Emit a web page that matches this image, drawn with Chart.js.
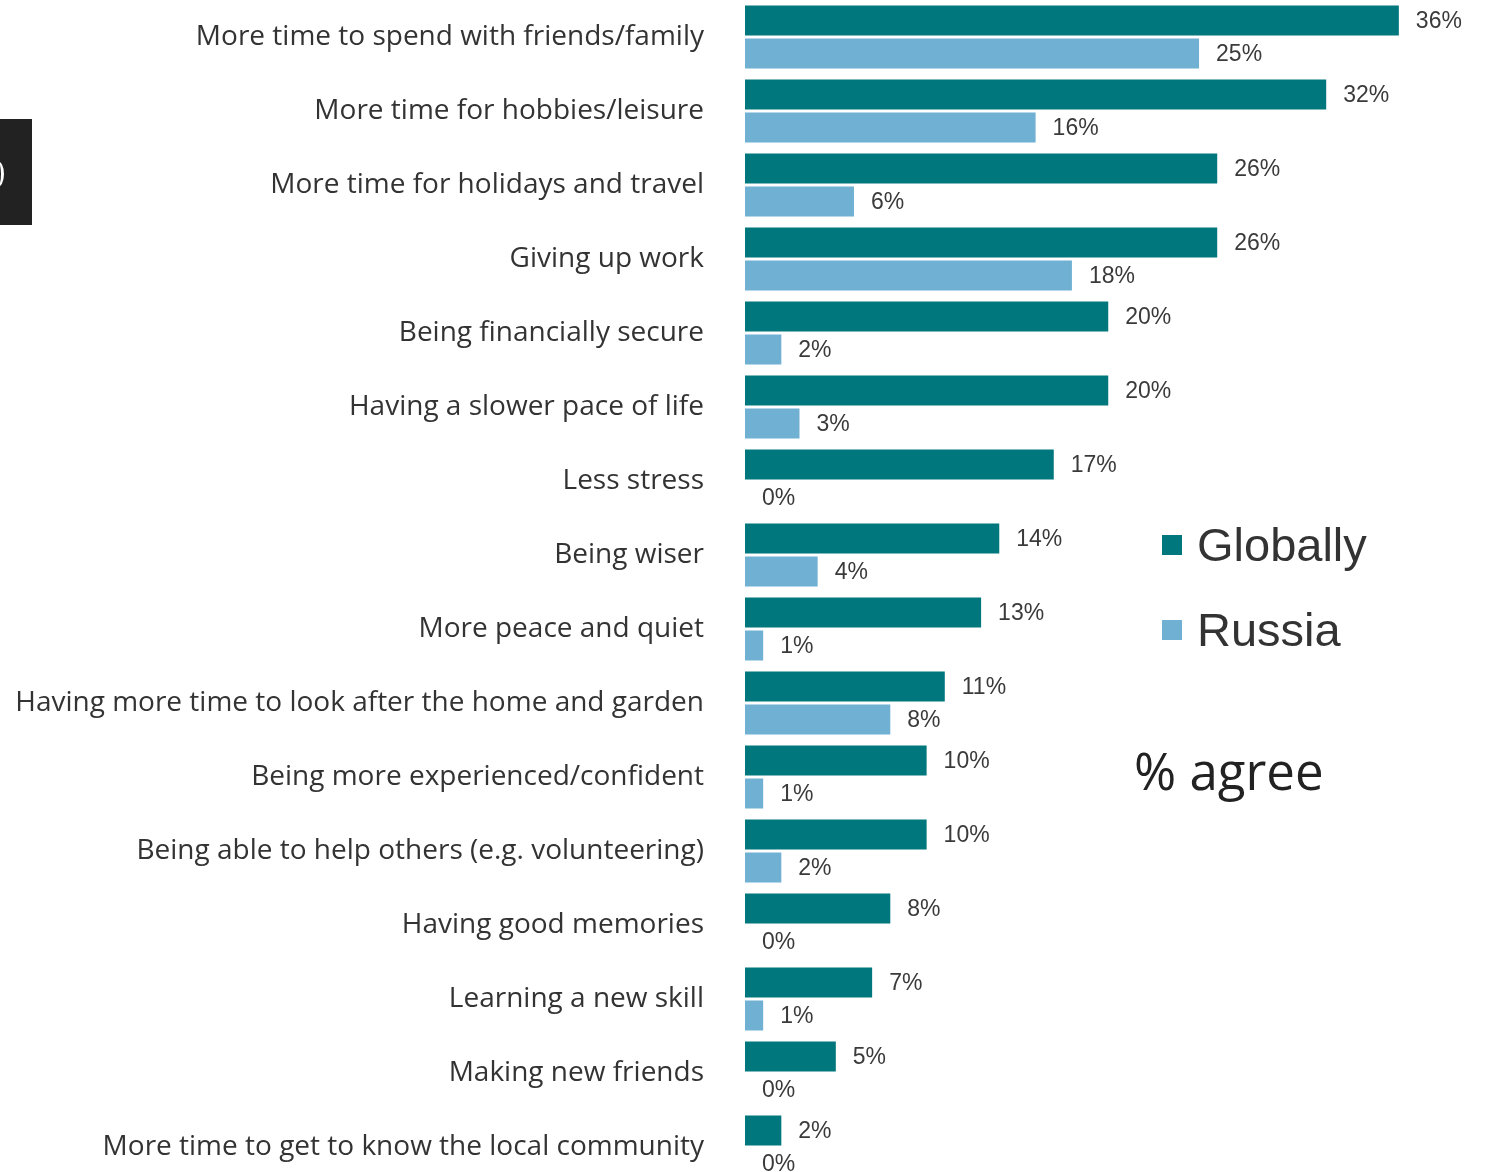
<!DOCTYPE html>
<html>
<head>
<meta charset="utf-8">
<script src="https://cdn.jsdelivr.net/npm/chart.js@4"></script>
<style>
  html, body { margin: 0; padding: 0; background: #fff; overflow: hidden; }
  #wrap { position: relative; width: 1506px; height: 1172px; overflow: hidden; }
  #chart { position: absolute; left: 0; top: 0; }
  .tab { position: absolute; left: 0; top: 119px; width: 32px; height: 106px; background: #222; overflow: hidden; }
  .tab span { position: absolute; left: -9px; top: 42px; width: 10px; height: 26px; border-right: 3px solid #fff; border-radius: 0 50% 50% 0; }
  .legend-item { position: absolute; left: 1162px; font-family: "Liberation Sans", Arial, sans-serif; font-size: 47px; color: #333; line-height: 1; }
  .legend-item i { position: absolute; left: 0; width: 20px; height: 20px; }
  .legend-item b { position: absolute; left: 35px; font-weight: normal; white-space: nowrap; }
  #note { position: absolute; left: 1134px; top: 745px; font-family: "Open Sans", sans-serif; font-size: 51px; color: #222; line-height: 1; white-space: nowrap; }
</style>
</head>
<body>
<div id="wrap">
  <canvas id="chart" width="1506" height="1184"></canvas>
  <div class="tab"><span></span></div>
  <div id="legend"></div>
  <div id="note">% agree</div>
</div>
<script>
const categories = [
  'More time to spend with friends/family',
  'More time for hobbies/leisure',
  'More time for holidays and travel',
  'Giving up work',
  'Being financially secure',
  'Having a slower pace of life',
  'Less stress',
  'Being wiser',
  'More peace and quiet',
  'Having more time to look after the home and garden',
  'Being more experienced/confident',
  'Being able to help others (e.g. volunteering)',
  'Having good memories',
  'Learning a new skill',
  'Making new friends',
  'More time to get to know the local community'
];
const globally = [36, 32, 26, 26, 20, 20, 17, 14, 13, 11, 10, 10, 8, 7, 5, 2];
const russia = [25, 16, 6, 18, 2, 3, 0, 4, 1, 8, 1, 2, 0, 1, 0, 0];

// value labels to the right of each bar
const barLabels = {
  id: 'barLabels',
  afterDatasetsDraw(chart) {
    const ctx = chart.ctx;
    ctx.save();
    ctx.font = '23px "Liberation Sans", Arial, sans-serif';
    ctx.fillStyle = '#3a3a3a';
    ctx.textAlign = 'left';
    ctx.textBaseline = 'middle';
    chart.data.datasets.forEach((ds, i) => {
      chart.getDatasetMeta(i).data.forEach((bar, j) => {
        ctx.fillText(ds.data[j] + '%', bar.x + 17, bar.y + 1);
      });
    });
    ctx.restore();
  }
};

const chart = new Chart(document.getElementById('chart'), {
  type: 'bar',
  data: {
    labels: categories,
    datasets: [
      { label: 'Globally', data: globally, backgroundColor: '#00767d' },
      { label: 'Russia', data: russia, backgroundColor: '#6fb0d3' }
    ]
  },
  options: {
    indexAxis: 'y',
    responsive: false,
    animation: false,
    layout: { padding: 0 },
    categoryPercentage: 66 / 74,
    barPercentage: 30 / 33,
    plugins: { legend: { display: false }, tooltip: { enabled: false } },
    scales: {
      x: { display: false, min: 0, max: 41.9 },
      y: {
        grid: { display: false },
        border: { display: false },
        ticks: {
          padding: 33,
          color: '#333',
          font: { family: '"Open Sans", sans-serif', size: 28 }
        },
        afterFit(scale) {
          // fixed label column, no extra space above/below the bars
          scale.width = 745;
          scale.paddingTop = 0;
          scale.paddingBottom = 0;
        }
      }
    }
  },
  plugins: [barLabels]
});

// legend built from the datasets
const legend = document.getElementById('legend');
const legendTops = [521, 606];
chart.data.datasets.forEach((ds, i) => {
  const item = document.createElement('div');
  item.className = 'legend-item';
  item.style.top = legendTops[i] + 'px';
  item.innerHTML = '<i style="top:14px;background:' + ds.backgroundColor + '"></i><b>' + ds.label + '</b>';
  legend.appendChild(item);
});
</script>
</body>
</html>
